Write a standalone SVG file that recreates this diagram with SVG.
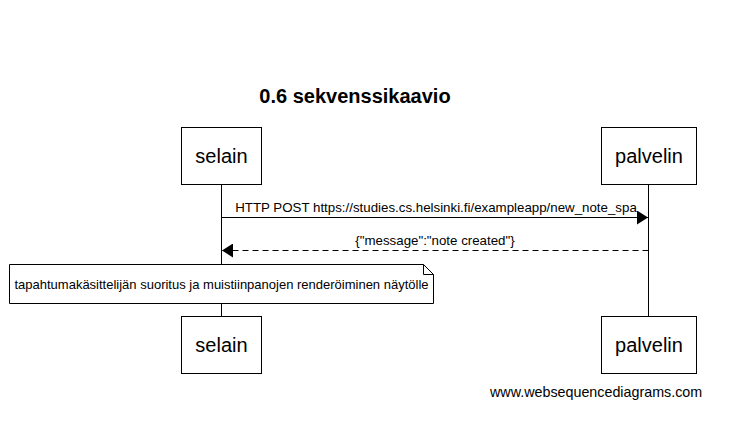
<svg xmlns="http://www.w3.org/2000/svg" width="748" height="423" viewBox="0 0 748 423">
<style>
text{font-family:"Liberation Sans",Arial,sans-serif;fill:#000}
.box{fill:#fff;stroke:#000;stroke-width:1}
.life{stroke:#000;stroke-width:1}
.p{font-size:20px;text-anchor:middle}
.m{font-size:13.3px;text-anchor:middle}
</style>
<defs>
<marker id="ah" markerWidth="12" markerHeight="14" refX="11" refY="7" orient="auto" markerUnits="userSpaceOnUse">
<path d="M0,0 L11,7 L0,14 Z" fill="#000"/>
</marker>
</defs>
<rect width="748" height="423" fill="#fff"/>
<text x="355" y="103" font-size="20" font-weight="bold" text-anchor="middle">0.6 sekvenssikaavio</text>
<g id="lifelines">
<line class="life" x1="221.5" y1="184" x2="221.5" y2="317"/>
<line class="life" x1="648.5" y1="184" x2="648.5" y2="317"/>
</g>
<g id="selain-top"><rect class="box" x="181.5" y="127.5" width="80" height="57"/><text class="p" x="221.5" y="163">selain</text></g>
<g id="palvelin-top"><rect class="box" x="601.5" y="127.5" width="95" height="57"/><text class="p" x="649" y="163">palvelin</text></g>
<g id="selain-bottom"><rect class="box" x="181.5" y="316.5" width="80" height="57"/><text class="p" x="221.5" y="352">selain</text></g>
<g id="palvelin-bottom"><rect class="box" x="601.5" y="316.5" width="95" height="57"/><text class="p" x="649" y="352">palvelin</text></g>
<g id="connectors">
<line x1="221.5" y1="217.5" x2="648" y2="217.5" stroke="#000" marker-end="url(#ah)"/>
<text class="m" x="436" y="212">HTTP POST https://studies.cs.helsinki.fi/exampleapp/new_note_spa</text>
<line x1="648.5" y1="250.5" x2="222" y2="250.5" stroke="#000" stroke-dasharray="6,4" marker-end="url(#ah)"/>
<text class="m" x="435" y="245">{"message":"note created"}</text>
</g>
<g id="note">
<path d="M9.5,264.5 H423.5 L433.5,274.5 V303.5 H9.5 Z" fill="#fff" stroke="#000"/>
<path d="M423.5,264.5 V274.5 H433.5" fill="none" stroke="#000"/>
<text x="221.5" y="289" font-size="13" text-anchor="middle">tapahtumakäsittelijän suoritus ja muistiinpanojen renderöiminen näytölle</text>
</g>
<text x="490" y="397" font-size="14.3">www.websequencediagrams.com</text>
</svg>
